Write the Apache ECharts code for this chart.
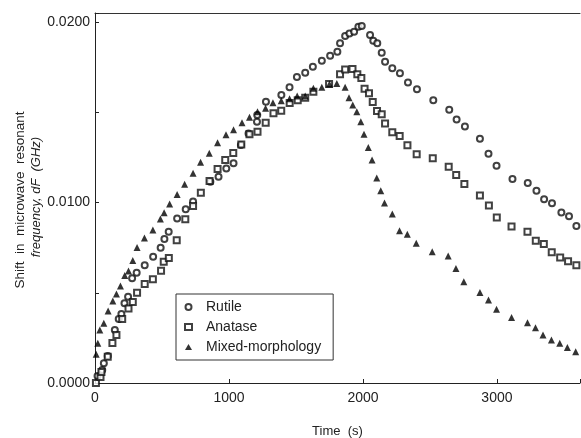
<!DOCTYPE html>
<html>
<head>
<meta charset="utf-8">
<script src="https://cdn.jsdelivr.net/npm/echarts@6/dist/echarts.min.js"></script>
<style>
html,body{margin:0;padding:0;background:#fff;}
#chart{width:581px;height:438px;}
</style>
</head>
<body>
<div id="chart"></div>
<script>
// Time (s) and frequency shift dF (GHz)
const rutileTime = [19,54,66,95,148,177,197,220,247,277,311,371,434,490,518,550,613,677,732,861,922,980,1034,1089,1146,1209,1211,1276,1391,1452,1507,1569,1626,1693,1755,1809,1829,1867,1899,1934,1966,1991,2053,2077,2107,2140,2165,2219,2276,2336,2403,2525,2644,2699,2761,2873,2937,2997,3116,3230,3295,3352,3411,3481,3538,3593];
const rutileShift = [0.00039,0.00072,0.00109,0.00150,0.00294,0.00355,0.00382,0.00442,0.00478,0.00580,0.00611,0.00652,0.00700,0.00750,0.00798,0.00838,0.00912,0.00962,0.01006,0.01115,0.01143,0.01189,0.01217,0.01319,0.01383,0.01448,0.01485,0.01558,0.01596,0.01638,0.01695,0.01719,0.01752,0.01786,0.01813,0.01835,0.01882,0.01922,0.01937,0.01946,0.01974,0.01978,0.01928,0.01896,0.01882,0.01830,0.01780,0.01744,0.01716,0.01665,0.01627,0.01566,0.01514,0.01460,0.01421,0.01353,0.01270,0.01203,0.01130,0.01108,0.01065,0.01018,0.00996,0.00945,0.00924,0.00870];

const anataseTime = [7,41,48,95,130,160,203,250,282,314,371,432,493,513,551,610,674,732,790,855,915,972,1032,1092,1153,1213,1274,1332,1390,1453,1513,1569,1630,1747,1829,1867,1922,1958,1988,2012,2045,2073,2105,2140,2165,2219,2274,2332,2401,2521,2640,2696,2757,2873,2940,2999,3109,3228,3290,3350,3409,3472,3531,3593];
const anataseShift = [0.00000,0.00033,0.00061,0.00146,0.00222,0.00266,0.00355,0.00413,0.00449,0.00500,0.00548,0.00575,0.00622,0.00672,0.00693,0.00791,0.00907,0.00981,0.01054,0.01119,0.01186,0.01235,0.01274,0.01322,0.01378,0.01392,0.01442,0.01494,0.01509,0.01552,0.01566,0.01580,0.01614,0.01657,0.01711,0.01737,0.01740,0.01710,0.01690,0.01630,0.01605,0.01557,0.01507,0.01489,0.01438,0.01389,0.01368,0.01317,0.01268,0.01245,0.01198,0.01153,0.01102,0.01039,0.00983,0.00917,0.00867,0.00838,0.00788,0.00770,0.00724,0.00696,0.00674,0.00653];

const mixedTime = [9,21,36,66,98,133,160,190,222,250,282,314,369,432,488,516,557,613,669,732,788,853,915,978,1034,1097,1153,1213,1273,1328,1390,1452,1509,1569,1630,1693,1750,1805,1867,1896,1924,1954,1984,2008,2040,2068,2103,2133,2161,2219,2273,2331,2398,2517,2636,2694,2753,2873,2937,2997,3109,3228,3288,3344,3407,3469,3526,3588];
const mixedShift = [0.00159,0.00220,0.00294,0.00331,0.00399,0.00454,0.00493,0.00537,0.00596,0.00620,0.00679,0.00751,0.00803,0.00848,0.00909,0.00943,0.00992,0.01045,0.01101,0.01162,0.01223,0.01273,0.01331,0.01376,0.01403,0.01442,0.01472,0.01503,0.01522,0.01553,0.01564,0.01575,0.01590,0.01590,0.01633,0.01638,0.01657,0.01660,0.01638,0.01581,0.01540,0.01503,0.01448,0.01378,0.01305,0.01235,0.01136,0.01065,0.00997,0.00936,0.00844,0.00824,0.00774,0.00727,0.00704,0.00634,0.00561,0.00501,0.00460,0.00408,0.00363,0.00334,0.00306,0.00266,0.00238,0.00220,0.00196,0.00173];

const seriesNames = ['Rutile','Anatase','Mixed-morphology'];
const yTickLabels = [0, 0.01, 0.02];
const xTickLabels = [0, 1000, 2000, 3000];

function pairs(xs, ys){ return xs.map((x,i)=>[x, ys[i]]); }

const FONT = 'Liberation Sans, Arial, sans-serif';
const chart = echarts.init(document.getElementById('chart'), null, {renderer:'canvas'});
chart.setOption({
  animation:false,
  backgroundColor:'#fff',
  grid:{left:95, right:1, top:13, bottom:55, containLabel:false, outerBoundsMode:'none'},
  xAxis:[{
    type:'value', min:0, max:3620, interval:1000,
    axisLine:{show:true, lineStyle:{color:'#222', width:1}},
    axisTick:{show:true, inside:true, length:4, lineStyle:{color:'#222'}},
    splitLine:{show:false},
    axisLabel:{margin:8, color:'#222', fontFamily:FONT, fontSize:14,
      formatter:(v)=> xTickLabels.indexOf(v) >= 0 ? String(v) : ''},
    name:'Time  (s)', nameLocation:'middle', nameGap:42,
    nameTextStyle:{color:'#222', fontFamily:FONT, fontSize:13}
  },{
    type:'value', position:'top', min:0, max:3620,
    axisLine:{show:true, onZero:false, lineStyle:{color:'#333', width:1}},
    axisTick:{show:false}, axisLabel:{show:false}, splitLine:{show:false}
  }],
  yAxis:{
    type:'value', min:0, max:0.0205, interval:0.005,
    axisLine:{show:true, lineStyle:{color:'#222', width:1}},
    axisTick:{show:true, inside:true, length:4, lineStyle:{color:'#222'}},
    splitLine:{show:false},
    axisLabel:{margin:5, color:'#222', fontFamily:FONT, fontSize:14,
      formatter:(v)=> yTickLabels.some(t=>Math.abs(t-v)<1e-9) ? v.toFixed(4) : ''}
  },
  legend:{
    orient:'vertical', left:176, top:294,
    data:seriesNames,
    backgroundColor:'#fff',
    borderColor:'#333', borderWidth:1, borderRadius:0,
    padding:[6,12,6,8],
    itemWidth:7, itemHeight:6, itemGap:6,
    textStyle:{color:'#222', fontFamily:FONT, fontSize:14, padding:[0,0,0,9]}
  },
  graphic:[
    {type:'text', x:20, y:200, rotation:Math.PI/2,
     style:{text:'Shift  in  microwave  resonant', fill:'#222', font:'13.5px '+FONT, align:'center', verticalAlign:'middle'}},
    {type:'text', x:36, y:197, rotation:Math.PI/2,
     style:{text:'frequency, dF  (GHz)', fill:'#222', font:'italic 13px '+FONT, align:'center', verticalAlign:'middle'}}
  ],
  series:[
    {name:seriesNames[0], type:'scatter', symbol:'emptyCircle', symbolSize:6,
     itemStyle:{color:'#111', borderWidth:1}, data:pairs(rutileTime, rutileShift)},
    {name:seriesNames[1], type:'scatter', symbol:'emptyRect', symbolSize:6,
     itemStyle:{color:'#111', borderWidth:1}, data:pairs(anataseTime, anataseShift)},
    {name:seriesNames[2], type:'scatter', symbol:'triangle', symbolSize:7,
     itemStyle:{color:'#000'}, data:pairs(mixedTime, mixedShift)}
  ]
});
</script>
</body>
</html>
